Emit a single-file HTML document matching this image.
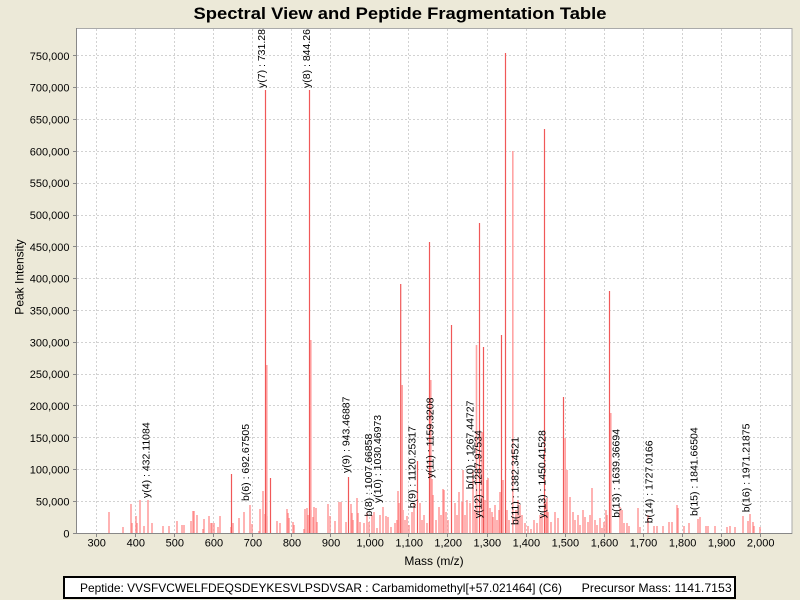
<!DOCTYPE html>
<html>
<head>
<meta charset="utf-8">
<style>
html,body{margin:0;padding:0;background:#ECE9D8;}
svg{display:block;font-family:"Liberation Sans",Arial,sans-serif;}
</style>
</head>
<body>
<svg width="800" height="600" viewBox="0 0 800 600" xmlns="http://www.w3.org/2000/svg">
<defs>
<clipPath id="plot"><rect x="77" y="28.5" width="715" height="505"/></clipPath>
</defs>
<rect x="0" y="0" width="800" height="600" fill="#ECE9D8"/>
<text x="400" y="19" text-anchor="middle" font-size="17" font-weight="bold" textLength="413" lengthAdjust="spacingAndGlyphs" fill="#000">Spectral View and Peptide Fragmentation Table</text>

<!-- plot background -->
<rect x="76.5" y="28.5" width="715.5" height="505" fill="#ffffff" stroke="#aaaaaa" stroke-width="1"/>

<!-- grid -->
<g stroke="#d2d2d2" stroke-width="1" stroke-dasharray="2,2">
<path d="M96.5 29V533M135.5 29V533M174.5 29V533M213.5 29V533M252.5 29V533M291.5 29V533M330.5 29V533M369.5 29V533M408.5 29V533M447.5 29V533M487.5 29V533M526.5 29V533M565.5 29V533M604.5 29V533M643.5 29V533M682.5 29V533M721.5 29V533M760.5 29V533"/>
<path d="M77 501.5H792M77 469.5H792M77 437.5H792M77 405.5H792M77 374.5H792M77 342.5H792M77 310.5H792M77 278.5H792M77 246.5H792M77 215.5H792M77 183.5H792M77 151.5H792M77 119.5H792M77 87.5H792M77 55.5H792"/>
</g>

<g clip-path="url(#plot)">
<!-- small peaks -->
<path fill="none" stroke="#ff8a8a" stroke-width="1.3" d="M109 533V512M123 533V527M131 533V504M132 533V523M136 533V516M137 533V523M140 533V500M144 533V526M148 533V500M152 533V523M163 533V526M169 533V526M177 533V521M182 533V525M184 533V525M191 533V521M193 533V511M194 533V511M197 533V515M203 533V529M204 533V519M209 533V516M211 533V523M212 533V523M214 533V523M218 533V527M220 533V516M231 533V527M233 533V523M239 533V518M244 533V512M250 533V505M252 533V524M259 533V531M260 533V509M263 533V491M265 533V514M267 533V516M277 533V521M280 533V523M287 533V509M288 533V513M289 533V518M293 533V522M294 533V525M304 533V529M305 533V509M307 533V508M308 533V515M311 533V510M313 533V517M314 533V507M316 533V508M317 533V522M328 533V504M330 533V516M335 533V521M339 533V502M341 533V502M346 533V522M351 533V504M352 533V513M353 533V520M357 533V498M358 533V513M360 533V522M364 533V523M367 533V513M369 533V522M372 533V515M374 533V512M377 533V528M380 533V515M383 533V507M386 533V516M388 533V517M391 533V527M395 533V523M397 533V520M398 533V491M399 533V503M403 533V510M405 533V520M407 533V516M409 533V525M412 533V512M414 533V503M420 533V503M422 533V520M424 533V515M427 533V523M432 533V479M433 533V495M436 533V520M439 533V507M441 533V515M443 533V489M444 533V490M446 533V512M448 533V520M455 533V503M457 533V515M459 533V492M462 533V502M463 533V470M465 533V515M467 533V500M470 533V503M473 533V470M475 533V510M477 533V500M482 533V432M485 533V500M487 533V480M488 533V478M490 533V508M492 533V512M493 533V517M495 533V505M497 533V520M499 533V510M500 533V492M503 533V480M507 533V510M509 533V520M516 533V510M518 533V500M520 533V505M522 533V515M525 533V523M528 533V526M531 533V529M534 533V520M537 533V523M540 533V515M542 533V515M546 533V502M547 533V498M548 533V512M551 533V522M555 533V512M558 533V518M567 533V470M570 533V497M573 533V512M575 533V520M578 533V515M580 533V525M583 533V510M585 533V517M588 533V522M590 533V515M592 533V488M595 533V520M597 533V525M600 533V518M602 533V528M604 533V522M606 533V510M607 533V515M620 533V507M622 533V510M624 533V523M627 533V523M629 533V526M638 533V508M640 533V527M648 533V515M654 533V526M657 533V526M663 533V526M669 533V522M672 533V522M677 533V505M678 533V508M684 533V526M689 533V523M698 533V519M700 533V517M706 533V526M708 533V526M715 533V526M727 533V527M730 533V526M735 533V527M743 533V516M748 533V521M750 533V514M753 533V522M754 533V526M760 533V527"/>
<!-- light tall peaks -->
<path fill="none" stroke="#ffa4a4" stroke-width="1.6" d="M266.8 533V365M310.8 533V340M402.2 533V385M430.8 533V380M476.5 533V345M512.8 533V151M565.2 533V438M610.8 533V413"/>
<!-- main peaks -->
<path fill="none" stroke="#f05858" stroke-width="1.2" d="M265.5 533V90M309.5 533V90M400.7 533V284M429.5 533V242M451.5 533V325M479.5 533V223M483.5 533V347M501.5 533V335M505.5 533V53M544.5 533V129M563.5 533V397M609.5 533V291M231.5 533V474M348.5 533V477M270.5 533V478M417.5 533V461"/>

<!-- annotations -->
<g font-size="10.5" fill="#000">
<text transform="translate(265,88) rotate(-90)">y(7) : 731.28337</text>
<text transform="translate(310,88) rotate(-90)">y(8) : 844.26</text>
<text transform="translate(149.5,498) rotate(-90)">y(4) : 432.11084</text>
<text transform="translate(249,501) rotate(-90)">b(6) : 692.67505</text>
<text transform="translate(349.5,473) rotate(-90)">y(9) : 943.46887</text>
<text transform="translate(372,516.5) rotate(-90)">b(8) : 1007.66858</text>
<text transform="translate(381,503) rotate(-90)">y(10) : 1030.46973</text>
<text transform="translate(415.7,508.3) rotate(-90)">b(9) : 1120.25317</text>
<text transform="translate(433.7,478.3) rotate(-90)">y(11) : 1159.3208</text>
<text transform="translate(473.7,489.3) rotate(-90)">b(10) : 1267.44727</text>
<text transform="translate(481.7,518.3) rotate(-90)">y(12) : 1287.97534</text>
<text transform="translate(518.4,525) rotate(-90)">b(11) : 1382.34521</text>
<text transform="translate(545.7,518.3) rotate(-90)">y(13) : 1450.41528</text>
<text transform="translate(619.4,517.7) rotate(-90)">b(13) : 1639.36694</text>
<text transform="translate(652.7,523.3) rotate(-90)">b(14) : 1727.0166</text>
<text transform="translate(697.7,516) rotate(-90)">b(15) : 1841.66504</text>
<text transform="translate(749.4,512.3) rotate(-90)">b(16) : 1971.21875</text>
</g>
</g>

<!-- axes -->
<path d="M76.5 28V534M76 533.5H792" stroke="#888888" stroke-width="1" fill="none"/>
<g stroke="#888888" stroke-width="1">
<path d="M73 533.5H76M73 501.5H76M73 469.5H76M73 437.5H76M73 405.5H76M73 374.5H76M73 342.5H76M73 310.5H76M73 278.5H76M73 246.5H76M73 215.5H76M73 183.5H76M73 151.5H76M73 119.5H76M73 87.5H76M73 55.5H76"/>
<path d="M96.5 534V537M135.5 534V537M174.5 534V537M213.5 534V537M252.5 534V537M291.5 534V537M330.5 534V537M369.5 534V537M408.5 534V537M447.5 534V537M487.5 534V537M526.5 534V537M565.5 534V537M604.5 534V537M643.5 534V537M682.5 534V537M721.5 534V537M760.5 534V537"/>
</g>

<!-- y tick labels -->
<g font-size="11" fill="#000" text-anchor="end">
<text x="69.5" y="537.5">0</text>
<text x="69.5" y="505.5">50,000</text>
<text x="69.5" y="473.5">100,000</text>
<text x="69.5" y="441.8">150,000</text>
<text x="69.5" y="410">200,000</text>
<text x="69.5" y="378.1">250,000</text>
<text x="69.5" y="346.3">300,000</text>
<text x="69.5" y="314.5">350,000</text>
<text x="69.5" y="282.6">400,000</text>
<text x="69.5" y="250.8">450,000</text>
<text x="69.5" y="219">500,000</text>
<text x="69.5" y="187.1">550,000</text>
<text x="69.5" y="155.3">600,000</text>
<text x="69.5" y="123.5">650,000</text>
<text x="69.5" y="91.6">700,000</text>
<text x="69.5" y="59.8">750,000</text>
</g>

<!-- x tick labels -->
<g font-size="11" fill="#000" text-anchor="middle">
<text x="96.7" y="546.5">300</text>
<text x="135.8" y="546.5">400</text>
<text x="174.8" y="546.5">500</text>
<text x="213.9" y="546.5">600</text>
<text x="252.9" y="546.5">700</text>
<text x="292" y="546.5">800</text>
<text x="331.1" y="546.5">900</text>
<text x="370.1" y="546.5">1,000</text>
<text x="409.2" y="546.5">1,100</text>
<text x="448.2" y="546.5">1,200</text>
<text x="487.3" y="546.5">1,300</text>
<text x="526.4" y="546.5">1,400</text>
<text x="565.4" y="546.5">1,500</text>
<text x="604.5" y="546.5">1,600</text>
<text x="643.5" y="546.5">1,700</text>
<text x="682.6" y="546.5">1,800</text>
<text x="721.6" y="546.5">1,900</text>
<text x="760.7" y="546.5">2,000</text>
</g>

<text x="434" y="565" font-size="12" text-anchor="middle" fill="#000">Mass (m/z)</text>
<text transform="translate(23.5,277) rotate(-90)" font-size="12" text-anchor="middle" fill="#000">Peak Intensity</text>

<!-- legend -->
<rect x="64" y="577" width="671" height="21" fill="#ffffff" stroke="#000000" stroke-width="2"/>
<text x="80" y="592" font-size="12" fill="#000" textLength="482" lengthAdjust="spacingAndGlyphs">Peptide: VVSFVCWELFDEQSDEYKESVLPSDVSAR : Carbamidomethyl[+57.021464] (C6)</text>
<text x="581.7" y="592" font-size="12" fill="#000" textLength="150" lengthAdjust="spacingAndGlyphs">Precursor Mass: 1141.7153</text>
</svg>
</body>
</html>
